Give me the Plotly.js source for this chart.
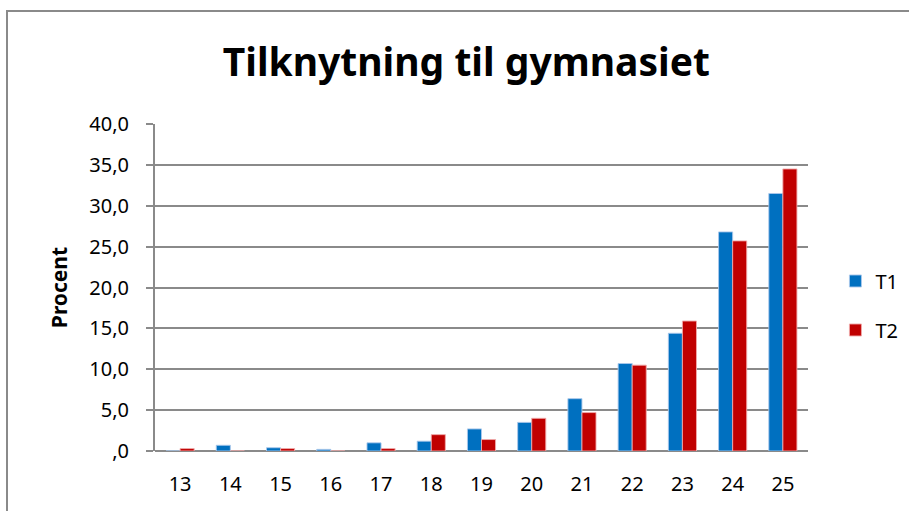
<!DOCTYPE html>
<html>
<head>
<meta charset="utf-8">
<script src="https://cdn.plot.ly/plotly-3.0.1.min.js"></script>
<style>
html,body{margin:0;padding:0;background:#fff;}
#chart{width:909px;height:511px;}
#frame{position:absolute;left:6px;top:10px;width:920px;height:520px;border-left:2px solid #8a8a8a;border-top:2px solid #8a8a8a;pointer-events:none;}
</style>
</head>
<body>
<div id="chart"></div>
<div id="frame"></div>
<script>
const categories = ["13","14","15","16","17","18","19","20","21","22","23","24","25"];
const t1 = [0, 0.7, 0.4, 0.2, 1.0, 1.2, 2.7, 3.5, 6.4, 10.7, 14.4, 26.8, 31.5];
const t2 = [0.3, 0, 0.3, 0, 0.3, 2.0, 1.4, 4.0, 4.7, 10.5, 15.9, 25.7, 34.5];
const tickVals = [0,5,10,15,20,25,30,35,40];
const tickText = [",0","5,0","10,0","15,0","20,0","25,0","30,0","35,0","40,0"];

const font = "Noto Sans, Open Sans, sans-serif";
const data = [
  {type:'bar', name:'T1', legendgroup:'a', x:categories, y:t1, marker:{color:'#0070C0', line:{color:'rgba(170,200,235,0.9)', width:1}}},
  {type:'bar', name:'T2', legendgroup:'b', x:categories, y:t2, marker:{color:'#C00000', line:{color:'rgba(240,170,170,0.9)', width:1}}}
];
const layout = {
  width:909, height:511,
  margin:{l:155, r:101, t:124, b:60, autoexpand:false},
  paper_bgcolor:'#fff', plot_bgcolor:'#fff',
  title:{text:'<b>Tilknytning til gymnasiet</b>', x:0.513, xanchor:'center', y:0.878, yanchor:'middle', font:{family:font, size:39, color:'#000'}},
  barmode:'group', bargap:0.44, bargroupgap:0,
  showlegend:true,
  legend:{x:1.042, y:0.445, xanchor:'left', yanchor:'middle', font:{family:font, size:20, color:'#000'}, tracegroupgap:20},
  xaxis:{type:'category', showgrid:false, showline:false, zeroline:false, ticks:'', tickfont:{family:font, size:20, color:'#000'}, ticklabelstandoff:19},
  yaxis:{range:[0,40], tickvals:tickVals, ticktext:tickText, showgrid:true, gridcolor:'#8a8a8a', gridwidth:2,
         showline:true, linecolor:'#8a8a8a', linewidth:2, ticks:'outside', ticklen:7, tickcolor:'#8a8a8a', tickwidth:2,
         zeroline:true, zerolinecolor:'#8a8a8a', zerolinewidth:2,
         tickfont:{family:font, size:20, color:'#000'}, ticklabelstandoff:13,
         title:{text:'<b>Procent</b>', font:{family:font, size:21, color:'#000'}, standoff:16}}
};
Plotly.newPlot('chart', data, layout, {displayModeBar:false, staticPlot:true});
</script>
</body>
</html>
